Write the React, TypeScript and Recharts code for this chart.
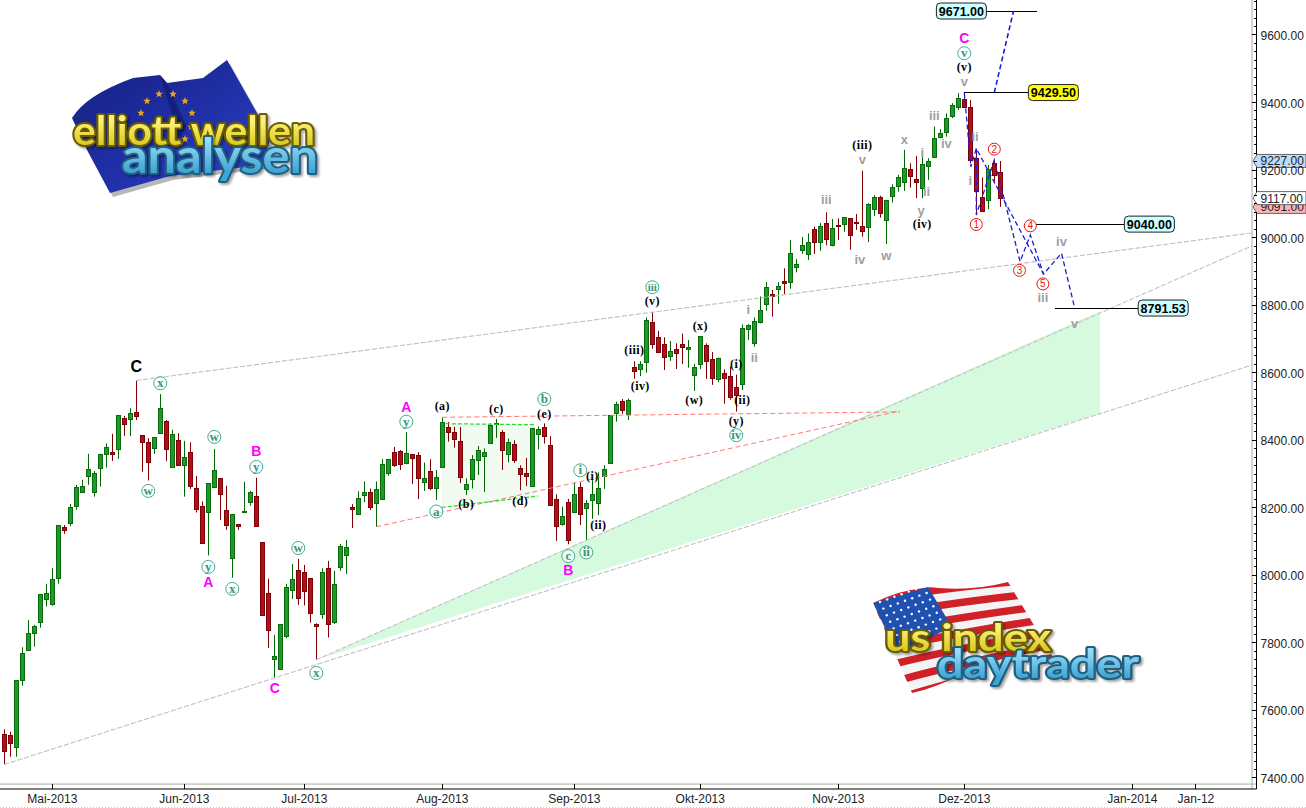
import {
  ComposedChart,
  Area,
  Bar,
  Line,
  XAxis,
  YAxis,
  ReferenceLine,
  ReferenceDot,
} from 'recharts'

const highs = [
  7544, 7537, 7690, 7787, 7868, 7853, 7945, 7975, 8021, 8149,
  8149, 8211, 8268, 8283, 8360, 8309, 8360, 8391, 8419, 8475,
  8472, 8495, 8577, 8415, 8406, 8409, 8537, 8460, 8431, 8421,
  8398, 8394, 8294, 8219, 8273, 8374, 8288, 8265, 8182, 8152,
  8277, 8250, 8289, 8098, 7990, 7824, 7855, 7975, 8034, 8049,
  8031, 7992, 7858, 8021, 8043, 8013, 8093, 8105, 8211, 8249,
  8278, 8257, 8278, 8344, 8344, 8380, 8371, 8424, 8359, 8365,
  8334, 8344, 8312, 8468, 8454, 8440, 8439, 8287, 8356, 8383,
  8376, 8450, 8463, 8430, 8405, 8400, 8326, 8348, 8436, 8441,
  8450, 8412, 8240, 8203, 8226, 8274, 8275, 8223, 8282, 8305,
  8326, 8474, 8514, 8522, 8524, 8634, 8634, 8764, 8780, 8724,
  8705, 8694, 8687, 8716, 8697, 8626, 8709, 8687, 8661, 8645,
  8610, 8618, 8594, 8743, 8744, 8764, 8826, 8869, 8845, 8868,
  8909, 8993, 8936, 9002, 9013, 9033, 9043, 9075, 9055, 9057,
  9061, 9057, 9070, 9198, 9102, 9126, 9124, 9112, 9158, 9186,
  9260, 9220, 9242, 9240, 9235, 9329, 9321, 9368, 9398, 9428,
  9430, 9408, 9262, 9178, 9215, 9230, 9227,
]

const lows = [
  7440, 7463, 7463, 7673, 7777, 7789, 7845, 7908, 7910, 7975,
  8123, 8146, 8194, 8245, 8268, 8233, 8263, 8319, 8339, 8345,
  8413, 8413, 8460, 8307, 8281, 8360, 8419, 8339, 8322, 8328,
  8233, 8256, 8186, 8097, 8059, 8259, 8164, 8135, 7993, 8135,
  8188, 8206, 8147, 7884, 7785, 7697, 7724, 7814, 7930, 7913,
  7911, 7860, 7750, 7871, 7816, 7856, 8014, 8004, 8140, 8183,
  8217, 8193, 8144, 8227, 8295, 8321, 8312, 8329, 8270, 8226,
  8250, 8252, 8223, 8319, 8396, 8378, 8273, 8238, 8257, 8297,
  8247, 8393, 8407, 8312, 8335, 8333, 8252, 8264, 8265, 8373,
  8390, 8207, 8102, 8147, 8092, 8188, 8149, 8104, 8167, 8178,
  8256, 8333, 8455, 8478, 8460, 8582, 8590, 8600, 8671, 8660,
  8608, 8635, 8611, 8626, 8615, 8546, 8611, 8582, 8564, 8572,
  8508, 8520, 8485, 8549, 8697, 8677, 8746, 8784, 8766, 8804,
  8833, 8849, 8897, 8952, 8934, 8952, 8961, 8977, 8974, 8993,
  9017, 8964, 9023, 9003, 8987, 9064, 9059, 8981, 9104, 9136,
  9138, 9148, 9117, 9117, 9171, 9240, 9294, 9299, 9354, 9378,
  9385, 9220, 9067, 9077, 9084, 9166, 9091,
]

const opens = [
  7531, 7527, 7493, 7690, 7779, 7829, 7863, 7929, 7916, 7991,
  8142, 8156, 8204, 8248, 8293, 8248, 8319, 8358, 8366, 8373,
  8465, 8464, 8483, 8415, 8394, 8378, 8421, 8456, 8322, 8400,
  8328, 8365, 8258, 8205, 8189, 8263, 8288, 8193, 8050, 8151,
  8189, 8216, 8234, 8098, 7947, 7751, 7724, 7819, 7958, 8015,
  8009, 7992, 7856, 7887, 8021, 7863, 8026, 8060, 8202, 8183,
  8239, 8247, 8215, 8227, 8304, 8365, 8368, 8333, 8358, 8356,
  8277, 8308, 8259, 8321, 8439, 8424, 8398, 8256, 8286, 8341,
  8354, 8393, 8447, 8424, 8360, 8388, 8317, 8303, 8265, 8418,
  8439, 8386, 8225, 8153, 8217, 8188, 8261, 8200, 8224, 8215,
  8293, 8333, 8481, 8515, 8478, 8616, 8612, 8632, 8749, 8705,
  8685, 8650, 8670, 8685, 8669, 8592, 8627, 8682, 8641, 8581,
  8599, 8590, 8557, 8568, 8728, 8689, 8751, 8802, 8832, 8849,
  8872, 8868, 8914, 8962, 8951, 9025, 8988, 9043, 8977, 9038,
  9040, 9057, 9047, 9035, 9030, 9086, 9120, 9051, 9122, 9154,
  9166, 9204, 9174, 9148, 9213, 9240, 9299, 9314, 9359, 9386,
  9411, 9386, 9235, 9121, 9111, 9220, 9194,
]

const closes = [
  7481, 7503, 7690, 7769, 7829, 7850, 7945, 7947, 7989, 8149,
  8135, 8203, 8262, 8264, 8314, 8302, 8359, 8379, 8360, 8474,
  8449, 8480, 8473, 8396, 8337, 8409, 8495, 8373, 8418, 8328,
  8350, 8266, 8195, 8097, 8273, 8311, 8242, 8150, 8181, 8147,
  8192, 8246, 8147, 7884, 7837, 7761, 7855, 7965, 7989, 7934,
  7955, 7890, 7851, 8009, 7857, 7974, 8087, 8083, 8197, 8229,
  8247, 8203, 8257, 8329, 8344, 8326, 8330, 8361, 8348, 8289,
  8287, 8259, 8290, 8454, 8425, 8404, 8292, 8270, 8344, 8371,
  8365, 8445, 8450, 8372, 8394, 8341, 8301, 8295, 8436, 8432,
  8413, 8209, 8147, 8175, 8105, 8241, 8181, 8214, 8241, 8258,
  8315, 8474, 8507, 8490, 8519, 8606, 8625, 8756, 8686, 8660,
  8648, 8664, 8657, 8677, 8675, 8616, 8709, 8634, 8583, 8644,
  8583, 8529, 8535, 8732, 8741, 8753, 8785, 8853, 8827, 8856,
  8867, 8954, 8921, 8978, 8987, 8988, 9034, 8997, 9028, 9033,
  9060, 9007, 9042, 9021, 9100, 9120, 9074, 9111, 9149, 9179,
  9206, 9181, 9166, 9218, 9228, 9295, 9309, 9355, 9392, 9413,
  9386, 9231, 9139, 9080, 9203, 9184, 9117,
]

// month ticks: [bar index, label]
const monthTicks: [number, string][] = [
  [8, 'Mai-2013'],
  [30, 'Jun-2013'],
  [50, 'Jul-2013'],
  [73, 'Aug-2013'],
  [95, 'Sep-2013'],
  [116, 'Okt-2013'],
  [139, 'Nov-2013'],
  [160, 'Dez-2013'],
  [188, 'Jan-2014'],
  [198.6, 'Jan-12'],
]

const majorPrices = [7400, 7600, 7800, 8000, 8200, 8400, 8600, 8800, 9000, 9200, 9400, 9600]
const priceTicks = Array.from({ length: 93 }, (_, k) => 7400 + k * 25)

// [bar index, price, text]
type Mark = [number, number, string]

const greenWaves: Mark[] = [
  [26, 8569, 'x'], [24, 8250, 'w'], [35, 8410, 'w'], [34, 8025, 'y'], [38, 7960, 'x'],
  [42, 8321, 'y'], [49, 8081, 'w'], [52, 7711, 'x'], [67, 8455, 'y'], [72, 8189, 'a'],
  [90, 8522, 'b'], [94, 8057, 'c'], [97, 8068, 'ii'], [96, 8311, 'i'], [108, 8853, 'iii'],
  [122, 8415, 'iv'], [160, 9546, 'v'],
]

const redWaves: Mark[] = [
  [162, 9039, '1'], [165, 9262, '2'], [169.2, 8903, '3'], [171, 9035, '4'], [173.1, 8863, '5'],
]

const blackWaves: Mark[] = [
  [73, 8499, '(a)'], [77, 8210, '(b)'], [82, 8490, '(c)'], [86, 8220, '(d)'], [90, 8477, '(e)'],
  [98, 8292, '(i)'], [99, 8147, '(ii)'], [105, 8665, '(iii)'], [106, 8560, '(iv)'], [108, 8810, '(v)'],
  [115, 8518, '(w)'], [116, 8737, '(x)'], [122, 8625, '(i)'], [123, 8518, '(ii)'], [122, 8455, '(y)'],
  [143, 9272, '(iii)'], [153, 9040, '(iv)'], [160, 9503, '(v)'],
]

const greyWaves: Mark[] = [
  [124, 8786, 'i'], [125, 8643, 'ii'], [137, 9110, 'iii'], [142.6, 8934, 'iv'], [147, 8946, 'w'],
  [143, 9230, 'v'], [150, 9289, 'x'], [153, 9252, 'i'], [153.7, 9134, 'ii'], [152.8, 9080, 'y'],
  [155, 9360, 'iii'], [157, 9277, 'iv'], [160, 9461, 'v'], [161.8, 9297, 'ii'], [161, 9169, 'i'],
  [176.2, 8988, 'iv'], [173.1, 8820, 'iii'], [178.4, 8744, 'v'],
]

const magentaWaves: Mark[] = [
  [34, 7980, 'A'], [42, 8368, 'B'], [45.1, 7667, 'C'], [67, 8499, 'A'], [94, 8016, 'B'], [160, 9591, 'C'],
]

// target levels: price, first bar, last bar, box colour, box side
const levelPrices = [9671, 9429.5, 9040, 8791.53]
const levelStarts = [163.6, 160, 172, 175.1]
const levelEnds = [172.1, 170.6, 186.6, 188.9]
const levelFills = ['#ccffff', '#ffff00', '#ccffff', '#ccffff']
const levelSides = ['left', 'right', 'right', 'right']

// forecast paths
const mainPath = [
  { i: 160, v: 9429.5 }, { i: 161.1, v: 9210 }, { i: 162, v: 9264 }, { i: 173.2, v: 8892 },
  { i: 176.2, v: 8954 }, { i: 178.4, v: 8791.53 },
]
const subPath = [
  { i: 162, v: 9264 }, { i: 162, v: 9067 }, { i: 165, v: 9230 }, { i: 169.3, v: 8929 },
  { i: 171, v: 9008 }, { i: 173.2, v: 8892 },
]
const upPath = [{ i: 165, v: 9429.5 }, { i: 168.2, v: 9671 }]

// channel lines
const trendLines = [
  [22, 8577, 208, 9014],
  [0, 7440, 208, 8623],
  [52, 7750, 208, 8976],
]
const redLines = [
  [73, 8468, 149.3, 8484],
  [62, 8144, 149.3, 8487],
]
const greenLines = [
  [73.6, 8449, 88.5, 8446],
  [72.9, 8201, 89, 8235],
]

const wedge = [
  { i: 52, band: [7750, 7750] },
  { i: 182.6, band: [8480, 8782] },
]
const triangle = [
  { i: 72.9, band: [8201, 8449] },
  { i: 88.5, band: [8233, 8446] },
]

const priceTags: [number, string, string][] = [
  [9091, '#ffb4b4', '9091.00'],
  [9117, '#ffffff', '9117.00'],
  [9227, '#bcdcff', '9227.00'],
]

const rows = highs.map((h, i) => ({
  i,
  range: [lows[i], h],
  open: opens[i],
  close: closes[i],
  high: h,
  low: lows[i],
}))

const SANS = '"Liberation Sans", Arial, sans-serif'
const SERIF = '"Liberation Serif", "Times New Roman", serif'

function Candle(props: any) {
  const { x, y, width, height, payload } = props
  const { open, close, high, low } = payload
  const up = close >= open
  const toY = (v: number) => y + ((high - v) / (high - low)) * height
  const top = Math.round(toY(Math.max(open, close)))
  const bottom = Math.round(toY(Math.min(open, close)))
  const cx = Math.floor(x + width / 2) + 0.5
  return (
    <g>
      <line x1={cx} x2={cx} y1={y} y2={y + height} stroke={up ? '#006600' : '#800000'} strokeWidth={1} />
      <rect
        x={cx - 2}
        y={top + 0.5}
        width={4}
        height={Math.max(bottom - top, 1)}
        fill={up ? '#1c9c24' : '#b01018'}
        stroke={up ? '#0a6a0f' : '#7c0008'}
        strokeWidth={1}
      />
    </g>
  )
}

function MonthTick(props: any) {
  const { x, y, payload } = props
  const hit = monthTicks.find((t) => t[0] === payload.value)
  return (
    <g>
      <line x1={x} x2={x} y1={y - 5} y2={y} stroke="#000" shapeRendering="crispEdges" />
      <text x={x} y={y + 14} textAnchor="middle" fontFamily={SANS} fontSize={12} fill="#222">
        {hit ? hit[1] : ''}
      </text>
    </g>
  )
}

function PriceTick(props: any) {
  const { x, y, payload } = props
  const major = majorPrices.includes(payload.value)
  return (
    <g>
      <line x1={x - (major ? 5 : 3)} x2={x} y1={y} y2={y} stroke="#000" shapeRendering="crispEdges" />
      {major && (
        <text x={x + 4} y={y + 5} fontFamily={SANS} fontSize={12} fill="#222">
          {payload.value.toFixed(2)}
        </text>
      )}
    </g>
  )
}

function waveDots(marks: Mark[], draw: (cx: number, cy: number, text: string) => any) {
  return marks.map((m, k) => (
    <ReferenceDot
      key={`${m[2]}-${k}-${m[0]}`}
      x={m[0]}
      y={m[1]}
      r={0}
      ifOverflow="visible"
      shape={(p: any) => draw(p.cx, p.cy, m[2])}
    />
  ))
}

const drawGreen = (cx: number, cy: number, text: string) => (
  <g>
    <circle cx={cx} cy={cy} r={6.5} fill="#fff" fillOpacity={0.6} stroke="#44aa88" strokeWidth={1} />
    <text x={cx} y={cy + 4} textAnchor="middle" fontFamily={SERIF} fontWeight="bold" fontSize={text.length > 2 ? 11 : 13} fill="#339977">
      {text}
    </text>
  </g>
)

const drawRed = (cx: number, cy: number, text: string) => (
  <g>
    <circle cx={cx} cy={cy} r={6} fill="#fff" stroke="#ee1111" strokeWidth={1} />
    <text x={cx} y={cy + 3.5} textAnchor="middle" fontFamily={SANS} fontSize={10} fill="#ee1111">
      {text}
    </text>
  </g>
)

const drawBlack = (cx: number, cy: number, text: string) => (
  <text x={cx} y={cy + 3.5} textAnchor="middle" fontFamily={SERIF} fontWeight="bold" fontSize={12} letterSpacing={0.4} fill="#000">
    {text}
  </text>
)

const drawGrey = (cx: number, cy: number, text: string) => (
  <text x={cx} y={cy + 4} textAnchor="middle" fontFamily={SANS} fontWeight="bold" fontSize={13} fill="#a0a0a0">
    {text}
  </text>
)

const drawMagenta = (cx: number, cy: number, text: string) => (
  <text x={cx} y={cy + 5} textAnchor="middle" fontFamily={SANS} fontWeight="bold" fontSize={14} fill="#ff00ff">
    {text}
  </text>
)

function star(cx: number, cy: number, r: number) {
  const pts: string[] = []
  for (let k = 0; k < 10; k++) {
    const a = -Math.PI / 2 + (k * Math.PI) / 5
    const rr = k % 2 === 0 ? r : r * 0.42
    pts.push(`${cx + rr * Math.cos(a)},${cy + rr * Math.sin(a)}`)
  }
  return pts.join(' ')
}

function TubeText({ x, y, size, width, text, dark, fill }: any) {
  return (
    <text
      x={x}
      y={y}
      fontFamily='Lato, "Noto Sans", sans-serif'
      fontWeight="bold"
      fontSize={size}
      textLength={width}
      lengthAdjust="spacingAndGlyphs"
      strokeLinejoin="round"
      stroke={dark}
      strokeWidth={4}
      fill={fill}
      style={{ paintOrder: 'stroke', filter: 'drop-shadow(2px 2px 1px rgba(0,0,0,0.35))' }}
    >
      {text}
    </text>
  )
}

// the two logos in the corners of the picture
function Logos() {
  const euStars = [
    [147, 101], [159, 94], [173, 94], [185, 101], [192, 113], [191, 127], [185, 139], [141, 113],
  ]
  const canton: number[][] = []
  for (let r = 0; r < 7; r++) {
    for (let c = 0; c < 7; c++) {
      canton.push([880 + c * 7.2 + r * 3.4, 602 - c * 2.6 + r * 6.6])
    }
  }
  return (
    <svg width={1306} height={808} style={{ position: 'absolute', left: 0, top: 0, pointerEvents: 'none' }}>
      <defs>
        <linearGradient id="euBlue" x1="0" y1="0" x2="1" y2="1">
          <stop offset="0" stopColor="#16207e" />
          <stop offset="0.55" stopColor="#2030a8" />
          <stop offset="1" stopColor="#3646d0" />
        </linearGradient>
        <linearGradient id="yellowTube" x1="0" y1="0" x2="0" y2="1">
          <stop offset="0.3" stopColor="#fff27a" />
          <stop offset="0.8" stopColor="#dccb22" />
        </linearGradient>
        <linearGradient id="blueTube" x1="0" y1="0" x2="0" y2="1">
          <stop offset="0.25" stopColor="#9adcf5" />
          <stop offset="0.8" stopColor="#3fa4d6" />
        </linearGradient>
        <clipPath id="usClip">
          <path d="M873 603 Q900 590 928 587 Q970 592 1008 582 L1053 657 Q1000 660 960 675 Q935 688 912 693 Z" />
        </clipPath>
      </defs>
      <path d="M74 121 Q88 98 135 82 L163 79 L170 87 L206 82 L230 64 L260 117 L273 144 L265 169 L173 180 L113 197 L90 154 Z" fill="#999" opacity={0.7} />
      <path d="M72 118 Q86 95 133 78 L160 75 L167 83 L203 78 L227 60 L257 113 L270 140 L262 165 L170 176 L110 193 L87 150 Z" fill="url(#euBlue)" />
      <path d="M160 75 L167 83 L186 126 L180 140 Z" fill="#0f1868" opacity={0.6} />
      {euStars.map((s, k) => (
        <polygon key={k} points={star(s[0], s[1], 4)} fill="#f0a818" />
      ))}
      <TubeText x={73} y={145} size={40} width={242} text="elliott wellen" dark="#6a5c00" fill="url(#yellowTube)" />
      <TubeText x={122} y={173} size={48} width={196} text="analysen" dark="#1f5f80" fill="url(#blueTube)" />

      <g clipPath="url(#usClip)">
        <rect x={870} y={575} width={190} height={125} fill="#f4f4f4" />
        {[0, 1, 2, 3, 4, 5, 6, 7].map((k) => (
          <path
            key={k}
            d={`M${870 + k * 6} ${600 + k * 16} Q950 ${586 + k * 16} 1060 ${578 + k * 13}`}
            stroke="#d02028"
            strokeWidth={7.5}
            fill="none"
          />
        ))}
        <polygon points="873,603 928,587 952,627 897,653" fill="#2050b0" />
        {canton.map((c, k) => (
          <circle key={k} cx={c[0]} cy={c[1]} r={1.2} fill="#fff" />
        ))}
      </g>
      <TubeText x={885} y={651} size={38} width={166} text="us index" dark="#6a5c00" fill="url(#yellowTube)" />
      <TubeText x={937} y={678} size={40} width={202} text="daytrader" dark="#1f5f80" fill="url(#blueTube)" />
      <line x1={0} x2={1306} y1={807.5} y2={807.5} stroke="#ccc" strokeDasharray="1 2" />
    </svg>
  )
}

export default function App() {
  return (
    <div style={{ position: 'absolute', left: 0, top: 0, width: 1306, height: 808, background: '#fff', overflow: 'hidden' }}>
      <ComposedChart width={1306} height={808} data={rows} margin={{ top: 0, right: 0, bottom: 0, left: 0 }}>
        <XAxis
          dataKey="i"
          type="number"
          domain={[-0.717, 208.7]}
          allowDataOverflow
          ticks={monthTicks.map((t) => t[0])}
          interval={0}
          height={19}
          tickSize={0}
          tickMargin={0}
          tickLine={false}
          axisLine={{ stroke: '#000' }}
          tick={MonthTick}
        />
        <YAxis
          orientation="right"
          type="number"
          domain={[7367.4, 9703.6]}
          allowDataOverflow
          ticks={priceTicks}
          interval={0}
          width={49.5}
          tickSize={0}
          tickMargin={0}
          tickLine={false}
          axisLine={{ stroke: '#000' }}
          tick={PriceTick}
        />

        <ReferenceLine x={207.95} stroke="#aaa" ifOverflow="visible" />
        <ReferenceLine y={7382} stroke="#aab0a0" ifOverflow="visible" />

        <Area data={wedge} dataKey="band" type="linear" stroke="none" fill="#d6fadd" fillOpacity={1} isAnimationActive={false} dot={false} activeDot={false} />
        <Area data={triangle} dataKey="band" type="linear" stroke="none" fill="#f1fbf1" fillOpacity={1} isAnimationActive={false} dot={false} activeDot={false} />

        {trendLines.map((l, k) => (
          <ReferenceLine key={`t${k}`} segment={[{ x: l[0], y: l[1] }, { x: l[2], y: l[3] }]} stroke="#c8b4d0" strokeDasharray="5 2" />
        ))}
        {trendLines.map((l, k) => (
          <ReferenceLine key={`u${k}`} segment={[{ x: l[0], y: l[1] }, { x: l[2], y: l[3] }]} stroke="#b4d4b4" strokeDasharray="2 5" />
        ))}
        {redLines.map((l, k) => (
          <ReferenceLine key={`r${k}`} segment={[{ x: l[0], y: l[1] }, { x: l[2], y: l[3] }]} stroke="#ff7878" strokeDasharray="5 3" />
        ))}
        {greenLines.map((l, k) => (
          <ReferenceLine key={`g${k}`} segment={[{ x: l[0], y: l[1] }, { x: l[2], y: l[3] }]} stroke="#22dd22" strokeWidth={1.2} strokeDasharray="4 2" />
        ))}

        <Bar dataKey="range" barSize={5} shape={Candle} isAnimationActive={false} />

        {levelPrices.map((p, k) => (
          <ReferenceLine key={`l${k}`} segment={[{ x: levelStarts[k], y: p }, { x: levelEnds[k], y: p }]} stroke="#000" shapeRendering="crispEdges" />
        ))}

        <Line data={upPath} dataKey="v" type="linear" stroke="#1c1ce0" strokeWidth={1.6} strokeDasharray="5 3" dot={false} activeDot={false} isAnimationActive={false} />
        <Line data={mainPath} dataKey="v" type="linear" stroke="#1c1ce0" strokeWidth={1.3} strokeDasharray="5 3" dot={false} activeDot={false} isAnimationActive={false} />
        <Line data={subPath} dataKey="v" type="linear" stroke="#1c1ce0" strokeWidth={1.3} strokeDasharray="5 3" dot={false} activeDot={false} isAnimationActive={false} />

        {levelPrices.map((p, k) => (
          <ReferenceDot
            key={`b${k}`}
            x={levelSides[k] === 'left' ? levelStarts[k] : levelEnds[k]}
            y={p}
            r={0}
            ifOverflow="visible"
            shape={(d: any) => {
              const left = levelSides[k] === 'left' ? d.cx - 50 : d.cx
              return (
                <g>
                  <rect x={left + 0.5} y={d.cy - 8} width={50} height={16} rx={4} fill={levelFills[k]} stroke="#222" />
                  <text x={left + 25.5} y={d.cy + 4.5} textAnchor="middle" fontFamily={SANS} fontWeight="bold" fontSize={12.5} fill="#000">
                    {p.toFixed(2)}
                  </text>
                </g>
              )
            }}
          />
        ))}

        {waveDots(greyWaves, drawGrey)}
        {waveDots(greenWaves, drawGreen)}
        {waveDots(redWaves, drawRed)}
        {waveDots(blackWaves, drawBlack)}
        {waveDots(magentaWaves, drawMagenta)}

        <ReferenceDot
          x={22}
          y={8620}
          r={0}
          ifOverflow="visible"
          shape={(d: any) => (
            <text x={d.cx} y={d.cy + 6} textAnchor="middle" fontFamily={SANS} fontWeight="bold" fontSize={16} fill="#000">
              C
            </text>
          )}
        />

        {priceTags.map((t) => (
          <ReferenceDot
            key={t[2]}
            x={207.95}
            y={t[0]}
            r={0}
            ifOverflow="visible"
            shape={(d: any) => (
              <g>
                <path
                  d={`M${d.cx + 1} ${d.cy} L${d.cx + 5} ${d.cy - 6.5} H1306 V${d.cy + 6.5} H${d.cx + 5} Z`}
                  fill={t[1]}
                  stroke="#666"
                />
                <text x={1260.5} y={d.cy + 4.5} fontFamily={SANS} fontSize={12} fill="#222">
                  {t[2]}
                </text>
              </g>
            )}
          />
        ))}
      </ComposedChart>
      <Logos />
    </div>
  )
}
